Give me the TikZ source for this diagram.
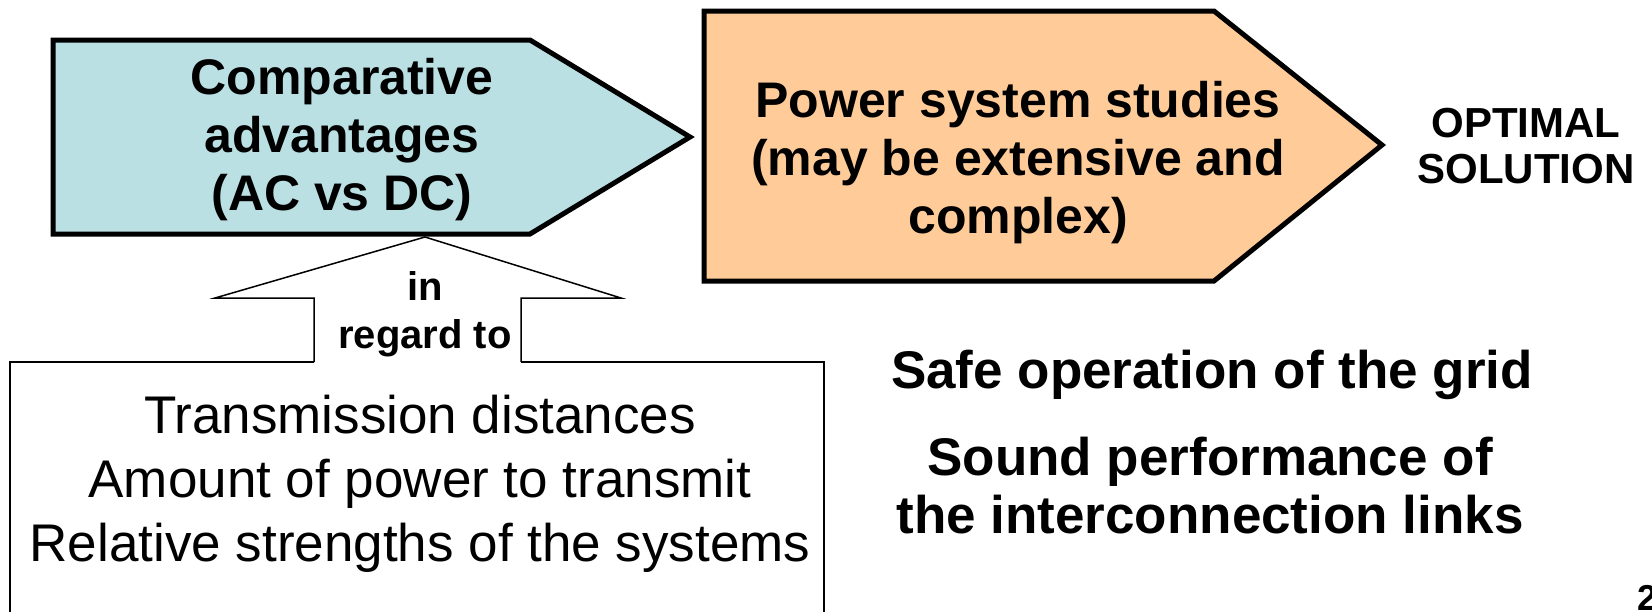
\documentclass[tikz,border=0pt]{standalone}
\usepackage{fontspec}
\setmainfont{Liberation Sans}
\definecolor{cyanfill}{RGB}{186,224,227}
\definecolor{orangefill}{RGB}{255,204,153}
\begin{document}
\begin{tikzpicture}[x=1pt,y=-1pt,
  chevron/.style={draw=black,line width=5pt,line join=miter},
  thinline/.style={draw=black,line width=1.5pt,line join=miter},
  bigtext/.style={font=\bfseries\fontsize{50}{58}\selectfont,align=center,inner sep=0pt},
  smalltext/.style={font=\bfseries\fontsize{40}{48}\selectfont,align=center,inner sep=0pt},
  opttext/.style={font=\bfseries\fontsize{42}{46}\selectfont,align=center,inner sep=0pt},
  goaltext/.style={font=\bfseries\fontsize{53}{58}\selectfont,align=center,inner sep=0pt},
  listtext/.style={font=\fontsize{53}{64}\selectfont,align=center,inner sep=0pt}]
\useasboundingbox (0,0) rectangle (1652,611);
\clip (0,0) rectangle (1652,611);
\fill[white] (0,0) rectangle (1652,611);
% left chevron
\coordinate (la) at (53,40);
\coordinate (lb) at (530,40);
\coordinate (lt) at (690,137);
\coordinate (lc) at (530,234);
\coordinate (ld) at (53,234);
\filldraw[chevron,fill=cyanfill] (la) -- (lb) -- (lt) -- (lc) -- (ld) -- cycle;
% right chevron
\coordinate (ra) at (704,11);
\coordinate (rb) at (1214,11);
\coordinate (rt) at (1382,145);
\coordinate (rc) at (1214,281);
\coordinate (rd) at (704,281);
\filldraw[chevron,fill=orangefill] (ra) -- (rb) -- (rt) -- (rc) -- (rd) -- cycle;
% bottom box with block arrow
\coordinate (sl) at (314,362);
\coordinate (sr) at (521,362);
\coordinate (hl) at (215,298);
\coordinate (hr) at (621,298);
\coordinate (tip) at (425,237);
\draw[thinline] (sl) -- (314,298) -- (hl) -- (tip) -- (hr) -- (521,298) -- (sr);
\draw[thinline] (sl) -- (10,362) -- (10,640) -- (824,640) -- (824,362) -- (sr);
% texts
\node[bigtext] (comp) at (342,140) {Comparative\\advantages\\(AC vs DC)};
\node[bigtext] (power) at (1018,163) {Power system studies\\(may be extensive and\\complex)};
\node[opttext] (opt) at (1526,146) {OPTIMAL\\SOLUTION};
\node[smalltext] (regard) at (425,314) {in\\regard to};
\node[listtext] (list) at (420,484) {Transmission distances\\Amount of power to transmit\\Relative strengths of the systems};
\node[goaltext] (safe) at (1212,375) {Safe operation of the grid};
\node[goaltext] (sound) at (1210,486) {Sound performance of\\the interconnection links};
\node[font=\bfseries\fontsize{36}{40}\selectfont,inner sep=0pt,anchor=north west] (num) at (1637,585) {2};
\end{tikzpicture}
\end{document}
